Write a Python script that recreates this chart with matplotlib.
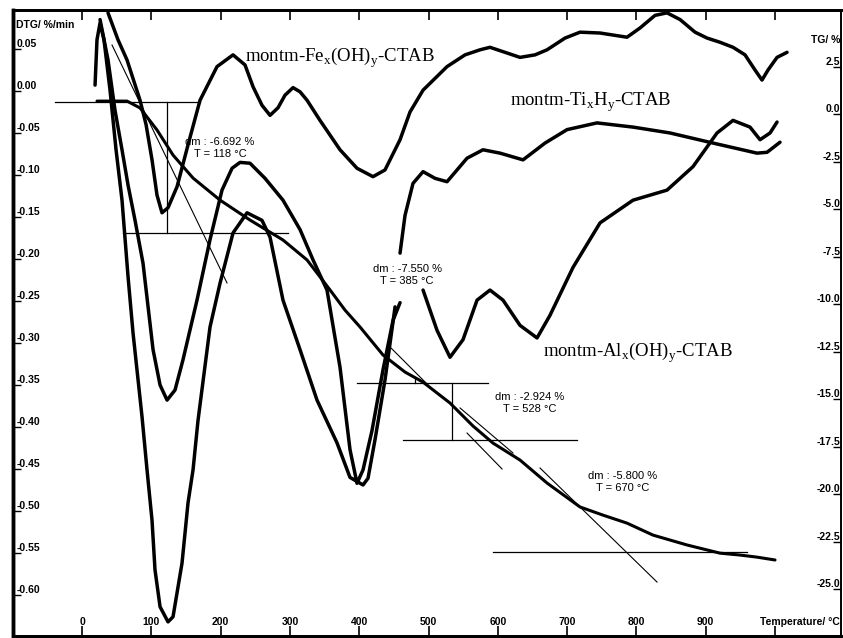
import numpy as np
import matplotlib
matplotlib.use('Agg')
import matplotlib.pyplot as plt

nan = np.nan

# DTG curves, %/min against temperature in °C (nan = gap under the annotation text)
fe_temp = [37.5, 51.9, 64.9, 83.7, 92.4, 101.0, 108.2, 115.4, 124.1, 137.1, 153.0, 170.3,
           194.8, 217.9, 235.2, 246.8, 259.7, 271.3, 282.8, 292.9, 304.5, 314.6, 324.7, 343.4,
           372.3, 396.8, 419.9, 437.2, 458.9, 473.3, 492.1, 526.7, 552.7, 574.3, 588.7, 610.4,
           632.0, 653.7, 671.0, 697.0, 718.6, 747.5, 786.4, 805.2, 826.8, 844.2, 863.0, 884.6,
           901.9, 920.6, 939.4, 956.7, 971.1, 981.2, 989.9, 1002.9, 1017.3]
fe_dtg = [0.093, 0.061, 0.037, -0.011, -0.040, -0.082, -0.124, -0.145, -0.139, -0.114, -0.064, -0.011,
          0.029, 0.043, 0.031, 0.005, -0.017, -0.029, -0.020, -0.005, 0.004, -0.001, -0.011, -0.035,
          -0.070, -0.092, -0.102, -0.094, -0.058, -0.025, 0.001, 0.029, 0.043, 0.049, 0.052, 0.046,
          0.040, 0.043, 0.049, 0.063, 0.070, 0.069, 0.064, 0.075, 0.090, 0.093, 0.085, 0.070,
          0.063, 0.058, 0.052, 0.043, 0.025, 0.013, 0.025, 0.040, 0.046]

ti_temp = [26.0, 37.5, 47.6, 57.7, 66.4, 76.5, 88.0, 102.5, 112.6, 122.7, 134.2, 145.7, 165.9,
           184.7, 202.0, 216.5, 228.0, 242.4, 264.1, 290.0, 314.6, 333.3, 353.5, 372.3, 386.7,
           396.8, 405.5, 418.5, 434.3, 448.8, 458.9, nan,
           458.9, 466.1, 477.6, 492.1, 509.4, 526.7, 555.6, 578.6, 603.2, 636.4, 668.1, 699.9,
           743.1, 795.1, 848.5, 910.5, 974.0, 988.5, 1007.2]
ti_dtg = [0.085, 0.037, -0.023, -0.070, -0.112, -0.154, -0.205, -0.308, -0.350, -0.368, -0.356, -0.320, -0.249,
          -0.177, -0.118, -0.092, -0.085, -0.086, -0.104, -0.130, -0.165, -0.201, -0.237, -0.329, -0.427,
          -0.467, -0.451, -0.404, -0.332, -0.273, -0.252, nan,
          -0.193, -0.148, -0.110, -0.096, -0.104, -0.108, -0.080, -0.070, -0.074, -0.082, -0.062, -0.046,
          -0.038, -0.043, -0.050, -0.062, -0.074, -0.073, -0.061]

al_temp = [18.8, 21.6, 26.0, 31.7, 40.4, 49.1, 57.7, 66.4, 73.6, 86.6, 93.8, 101.0, 105.3, 112.6,
           124.1, 131.3, 144.3, 153.0, 160.2, 167.4, 184.7, 199.1, 217.9, 238.1, 259.7, 271.3, 290.0,
           314.6, 339.1, 368.0, 386.7, 405.5, 412.7, 422.8, 437.2, 451.7, nan,
           492.1, 512.3, 531.0, 549.8, 570.0, 588.7, 607.5, 632.0, 656.6, 675.3, 708.5, 747.5,
           795.1, 844.2, 881.7, 916.3, 939.4, 963.9, 978.4, 992.8, 1002.9]
al_dtg = [0.007, 0.061, 0.081, 0.061, 0.001, -0.070, -0.130, -0.221, -0.288, -0.388, -0.451, -0.511, -0.570, -0.614,
          -0.632, -0.626, -0.562, -0.490, -0.451, -0.392, -0.281, -0.229, -0.169, -0.145, -0.154, -0.174, -0.249,
          -0.308, -0.368, -0.419, -0.460, -0.469, -0.461, -0.415, -0.344, -0.257, nan,
          -0.237, -0.285, -0.317, -0.296, -0.249, -0.237, -0.249, -0.279, -0.294, -0.267, -0.210, -0.157,
          -0.130, -0.118, -0.090, -0.050, -0.035, -0.043, -0.058, -0.050, -0.037]

# TG curve, % mass change
tg_temp = [21.6, 64.9, 83.7, 108.2, 131.3, 160.2, 199.1, 242.4, 290.0, 324.7, 357.9, 379.5, 401.2,
           434.3, 466.1, 492.1, 531.0, 564.2, 593.1, 632.0, 671.0, 718.6, 751.8, 786.4, 823.9, 873.0,
           920.6, 949.5, 974.0, 1000.0]
tg_mass = [0.68, 0.68, 0.32, -0.84, -2.16, -3.37, -4.53, -5.58, -6.63, -7.68, -9.26, -10.32, -11.21,
           -12.68, -13.58, -14.11, -15.21, -16.42, -17.32, -18.21, -19.42, -20.68, -21.11, -21.53, -22.16, -22.68,
           -23.11, -23.21, -23.32, -23.47]

# mass-step evaluation: level lines (TG, T from, T to), verticals (T, TG from, TG to), tangents
step_levels = [(0.63, -39.0, 170.3), (-6.26, 59.2, 297.3), (-14.16, 396.8, 585.9),
               (-17.16, 463.2, 714.3), (-23.05, 593.1, 959.6)]
step_verticals = [(122.7, 0.63, -6.26), (533.9, -14.16, -17.16), (480.5, -13.84, -14.16)]
step_tangents = [(43.3, 3.63, 209.2, -8.89), (444.4, -12.26, 499.3, -14.26),
                 (545.5, -15.47, 621.9, -17.84), (555.6, -16.79, 606.1, -18.68),
                 (660.9, -18.63, 829.7, -24.63)]
step_texts = ['dm : -6.692 %\nT = 118 °C', 'dm : -7.550 %\nT = 385 °C',
              'dm : -2.924 %\nT = 528 °C', 'dm : -5.800 %\nT = 670 °C']
step_text_pos = [(199.1, -1.79), (469.0, -8.47), (646.5, -15.21), (780.7, -19.37)]

x_ticks = list(range(0, 1001, 100))
dtg_ticks = [round(0.05 - 0.05 * i, 2) for i in range(14)]
tg_ticks = [2.5 - 2.5 * i for i in range(12)]

plt.rcParams['font.family'] = 'Liberation Sans'

fig = plt.figure(figsize=(8.43, 6.38), dpi=100)
ax = fig.add_axes([13 / 843, 2 / 638, 828 / 843, 626 / 638])
ax.set_xlim(-99.6, 1095.2)
ax.set_ylim(-0.6488, 0.0964)
ax2 = ax.twinx()
ax2.set_ylim(-27.47, 5.474)

for ln_t, ln_v in [(fe_temp, fe_dtg), (ti_temp, ti_dtg), (al_temp, al_dtg)]:
    ax.plot(ln_t, ln_v, color='black', lw=2.5, solid_joinstyle='round', solid_capstyle='round')
ax2.plot(tg_temp, tg_mass, color='black', lw=2.2, solid_joinstyle='round', solid_capstyle='round')

for lvl, t0, t1 in step_levels:
    ax2.plot([t0, t1], [lvl, lvl], color='black', lw=0.9)
for t, m0, m1 in step_verticals:
    ax2.plot([t, t], [m0, m1], color='black', lw=0.9)
for t0, m0, t1, m1 in step_tangents:
    ax2.plot([t0, t1], [m0, m1], color='black', lw=0.8)
for s, (t, m) in zip(step_texts, step_text_pos):
    ax2.text(t, m, s, ha='center', va='center', fontsize=8, linespacing=1.3)

# sample names
serif = dict(family='Liberation Serif', fontsize=13.5, va='center', ha='left')
ax.text(235.2, 0.040, r'montm-Fe$_\mathregular{x}$(OH)$_\mathregular{y}$-CTAB', **serif)
ax.text(617.6, -0.014, r'montm-Ti$_\mathregular{x}$H$_\mathregular{y}$-CTAB', **serif)
ax.text(665.2, -0.312, r'montm-Al$_\mathregular{x}$(OH)$_\mathregular{y}$-CTAB', **serif)

# axes, ticks and inside labels
for side, w in [('left', 2.5), ('top', 2.0), ('bottom', 2.0), ('right', 1.2)]:
    ax.spines[side].set_linewidth(w)
    ax2.spines[side].set_linewidth(w)

ax.set_xticks(x_ticks)
ax.tick_params(axis='x', which='both', direction='in', length=7, width=1.2,
               top=True, bottom=True, labelbottom=False)
ax.set_yticks(dtg_ticks)
ax.tick_params(axis='y', direction='in', length=6, width=1, labelleft=False)
ax2.set_yticks(tg_ticks)
ax2.tick_params(axis='y', direction='in', length=6, width=1, labelright=False)

lab = dict(fontsize=7.5, fontweight='bold')
xt = ax.get_xaxis_transform()
for t in x_ticks[:-1]:
    ax.text(t, 0.0224, str(t), transform=xt, ha='center', va='center', **lab)
ax.text(0.998, 0.0224, 'Temperature/ °C', transform=ax.transAxes, ha='right', va='center', **lab)

yt = ax.get_yaxis_transform()
for v in dtg_ticks:
    ax.text(0.004, v, f'{v:.2f}', transform=yt, ha='left', va='bottom', **lab)
ax.text(0.004, 0.976, 'DTG/ %/min', transform=ax.transAxes, ha='left', va='center', **lab)

yt2 = ax2.get_yaxis_transform()
for m in tg_ticks:
    ax2.text(0.999, m, f'{m:.1f}', transform=yt2, ha='right', va='bottom', **lab)
ax2.text(0.999, 0.952, 'TG/ %', transform=ax2.transAxes, ha='right', va='center', **lab)

fig.savefig('out.png', dpi=100)
